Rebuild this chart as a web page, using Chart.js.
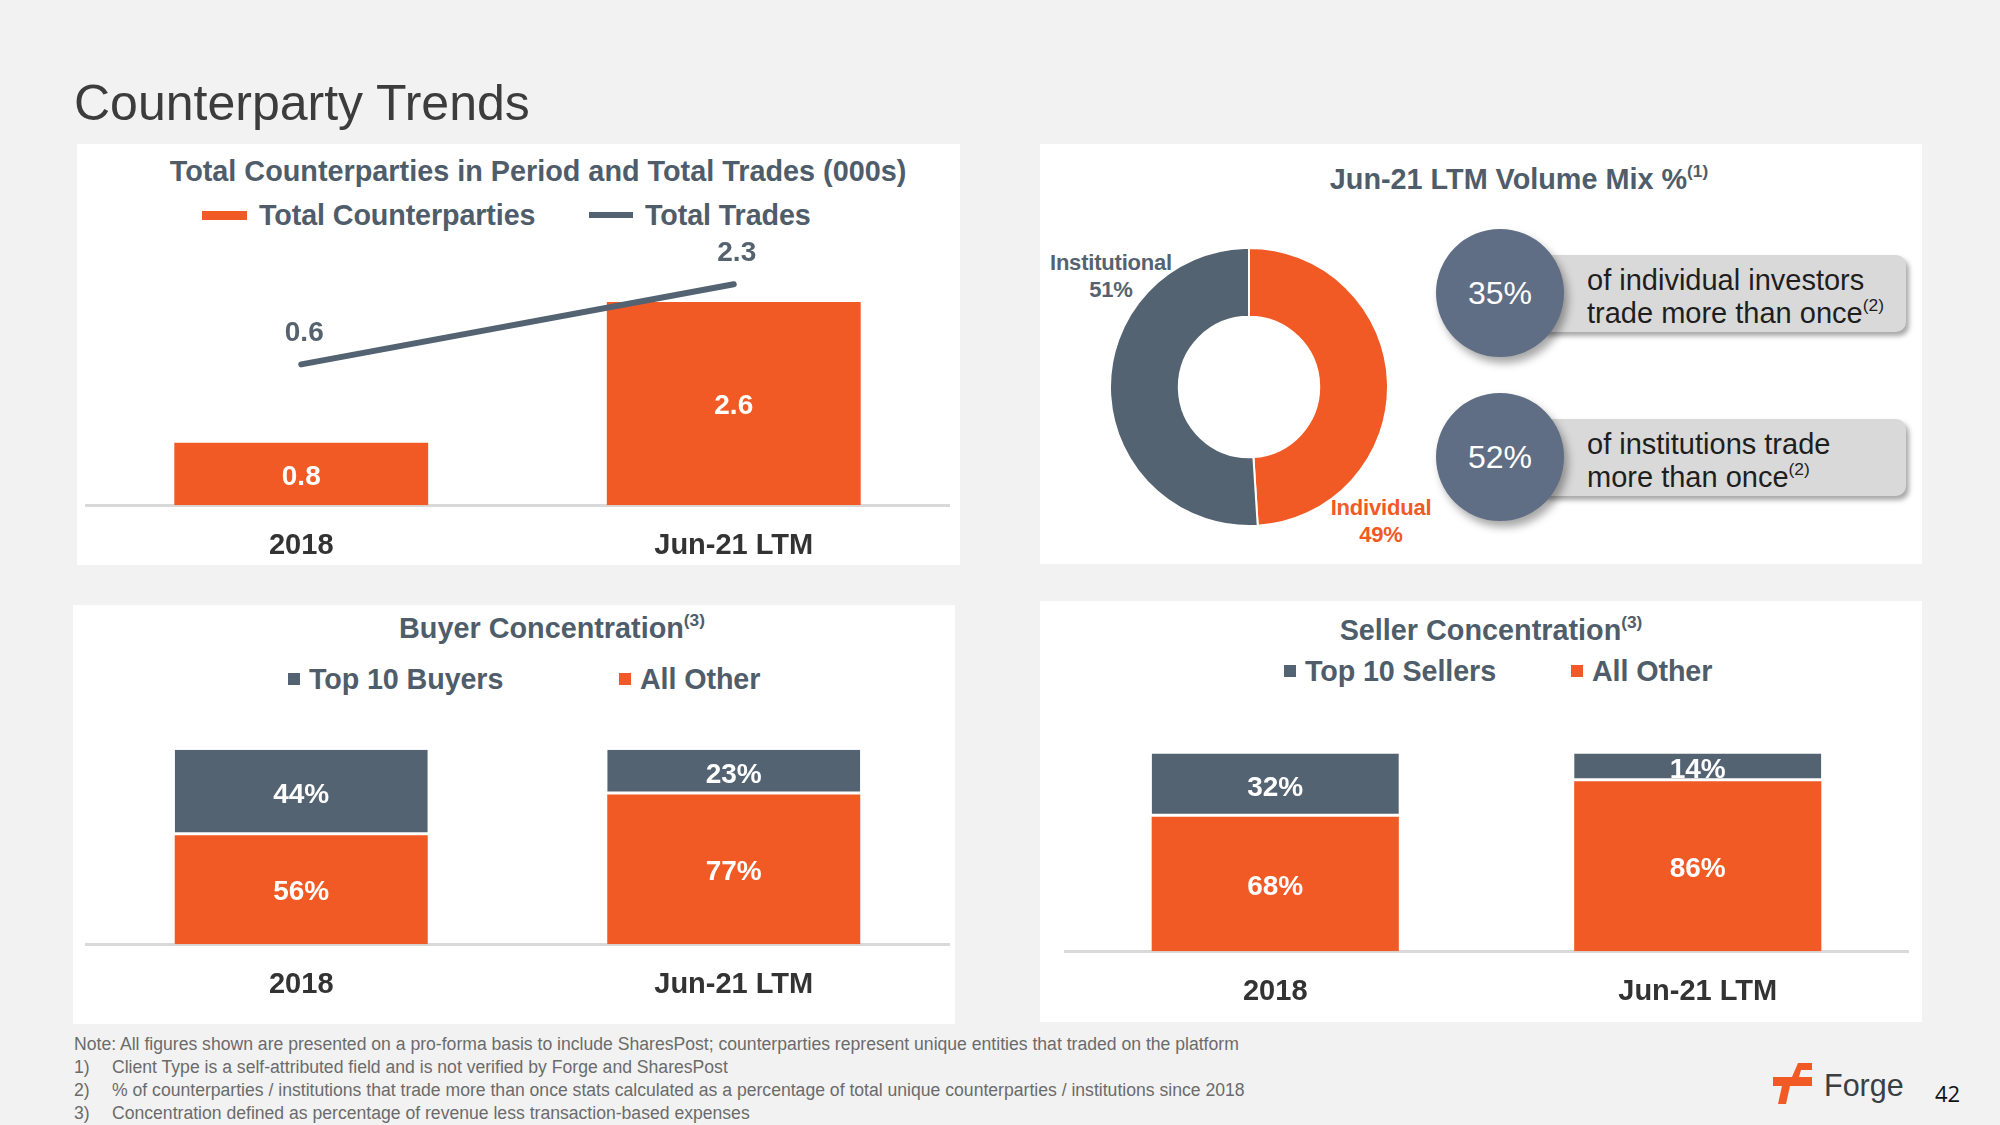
<!DOCTYPE html>
<html>
<head>
<meta charset="utf-8">
<title>Counterparty Trends</title>
<script src="https://cdn.jsdelivr.net/npm/chart.js@4.4.0/dist/chart.umd.min.js"></script>
<style>
    body { margin: 0; width: 2000px; height: 1125px; background: #f2f2f2; position: relative; overflow: hidden;
           font-family: 'Liberation Sans', Arial, Helvetica, sans-serif; }
    .panel { position: absolute; background: #fff; }
    .box { position: absolute; }
    .txt { position: absolute; white-space: nowrap; line-height: 1; }
    .mid { transform: translate(-50%, -50%); }
    .vmid { transform: translateY(-50%); }
    .head { font-weight: bold; color: #4f5d6b; font-size: 28.8px; }
    .leg { font-weight: bold; color: #4f5d6b; font-size: 28.7px; letter-spacing: -0.1px; }
    sup { font-size: 60%; line-height: 0; vertical-align: 0.7em; font-weight: normal; }
    .head sup { font-weight: bold; }
    .circle { position: absolute; border-radius: 50%; background: #5f6e85; color: #fff;
              box-shadow: 4px 6px 8px rgba(0,0,0,0.35); display: flex; align-items: center; justify-content: center;
              font-size: 32px; }
    .callout { position: absolute; background: #d9d9d9; border-radius: 10px;
               box-shadow: 3px 4px 5px rgba(0,0,0,0.35); }
    .callout div { position: absolute; left: 50px; font-size: 29px; color: #1e1e1e; white-space: nowrap; line-height: 1; }
    .note { position: absolute; left: 74px; font-size: 17.6px; color: #6b6b6b; white-space: nowrap; line-height: 1;
            transform: translateY(-50%); }
    .note span { display: inline-block; width: 38px; }
</style>
</head>
<body>

<div class="txt" style="left:74px; top:103px; font-size:50px; color:#3c3c3c; transform:translateY(-50%);">Counterparty Trends</div>

<div class="panel" style="left:77px; top:144px; width:883px; height:421px;"></div>
<div class="panel" style="left:1040px; top:144px; width:882px; height:420px;"></div>
<div class="panel" style="left:73px; top:605px; width:882px; height:419px;"></div>
<div class="panel" style="left:1040px; top:601px; width:882px; height:421px;"></div>

<div class="txt head mid" style="left:538px; top:171px;">Total Counterparties in Period and Total Trades (000s)</div>
<div class="txt head mid" style="left:1519px; top:179px;">Jun-21 LTM Volume Mix %<sup>(1)</sup></div>
<div class="txt head mid" style="left:552px; top:628px;">Buyer Concentration<sup>(3)</sup></div>
<div class="txt head mid" style="left:1491px; top:630px;">Seller Concentration<sup>(3)</sup></div>

<div id="legends"></div>
<div id="extras"></div>

<div class="box" style="left:85px; top:230px; width:865px; height:356px;"><canvas id="trendChart"></canvas></div>
<div class="box" style="left:1109px; top:247px; width:280px; height:280px;"><canvas id="mixChart"></canvas></div>
<div class="box" style="left:85px; top:700px; width:865px; height:325px;"><canvas id="buyerChart"></canvas></div>
<div class="box" style="left:1064px; top:705px; width:845px; height:327px;"><canvas id="sellerChart"></canvas></div>

<div class="note" style="top:1045px;">Note: All figures shown are presented on a pro-forma basis to include SharesPost; counterparties represent unique entities that traded on the platform</div>
<div class="note" style="top:1068px;"><span>1)</span>Client Type is a self-attributed field and is not verified by Forge and SharesPost</div>
<div class="note" style="top:1091px;"><span>2)</span>% of counterparties / institutions that trade more than once stats calculated as a percentage of total unique counterparties / institutions since 2018</div>
<div class="note" style="top:1114px;"><span>3)</span>Concentration defined as percentage of revenue less transaction-based expenses</div>

<svg class="box" style="left:1770px; top:1060px;" width="50" height="50" viewBox="1770 1060 50 50">
    <polygon fill="#f15a24" points="1798,1063 1812,1063 1812,1070 1801,1070 1799,1077 1792,1077"/>
    <polygon fill="#f15a24" points="1773,1077 1812,1077 1812,1086 1773,1086"/>
    <polygon fill="#f15a24" points="1782,1086 1790,1086 1786,1104 1778,1104"/>
</svg>
<div class="txt" style="left:1824px; top:1085px; font-size:30.5px; color:#3a3f44; transform:translateY(-50%);">Forge</div>
<div class="txt" style="left:1935px; top:1093px; font-size:22px; color:#111; font-family:'Open Sans',sans-serif; transform:translateY(-50%);">42</div>

<script>
const categories = ["2018", "Jun-21 LTM"];
const trendNames = ["Total Counterparties", "Total Trades"];
const totalCounterparties = [0.8, 2.6];
const totalTrades = [0.6, 2.3];

const mixLabels = ["Individual", "Institutional"];
const mixValues = [49, 51];

const repeatShares = [35, 52];
const repeatTexts = [["of individual investors", "trade more than once"], ["of institutions trade", "more than once"]];

const buyerNames = ["Top 10 Buyers", "All Other"];
const buyerTop10 = [44, 23];
const buyerOther = [56, 77];

const sellerNames = ["Top 10 Sellers", "All Other"];
const sellerTop10 = [32, 14];
const sellerOther = [68, 86];

const ORANGE = "#f15a24";
const SLATE = "#546371";
const LABEL_GRAY = "#56636f";
const FONT = "'Liberation Sans', Arial, Helvetica, sans-serif";

Chart.defaults.font.family = FONT;
Chart.defaults.animation = false;
Chart.defaults.plugins.legend.display = false;
Chart.defaults.plugins.tooltip.enabled = false;

// value labels on bars / line points
const valueLabels = {
    id: "valueLabels",
    afterDatasetsDraw(chart) {
        const ctx = chart.ctx;
        chart.data.datasets.forEach((ds, i) => {
            const lab = ds.valueLabel;
            if (!lab) return;
            chart.getDatasetMeta(i).data.forEach((el, j) => {
                const y = lab.pos === "above" ? el.y - lab.offset : (el.y + el.base) / 2 + 3;
                ctx.save();
                ctx.font = "bold 28px " + FONT;
                ctx.fillStyle = lab.color;
                ctx.textAlign = "center";
                ctx.textBaseline = "middle";
                ctx.fillText(lab.format(ds.data[j]), el.x + (lab.dx || 0), y);
                ctx.restore();
            });
        });
    }
};

const xAxis = {
    grid: { display: false, drawTicks: false },
    border: { color: "#d9d9d9", width: 3 },
    ticks: { color: "#333", padding: 23, font: { size: 29, weight: "bold" } }
};

// legends
const legends = document.getElementById("legends");
function addLegend(x, y, marker, text) {
    const m = document.createElement("div");
    m.className = "box";
    m.style.left = x + "px";
    m.style.top = (y - marker.h / 2) + "px";
    m.style.width = marker.w + "px";
    m.style.height = marker.h + "px";
    m.style.background = marker.color;
    legends.appendChild(m);
    const t = document.createElement("div");
    t.className = "txt leg vmid";
    t.style.left = (x + marker.w + marker.gap) + "px";
    t.style.top = y + "px";
    t.textContent = text;
    legends.appendChild(t);
}
addLegend(202, 215, { w: 45, h: 9, color: ORANGE, gap: 12 }, trendNames[0]);
addLegend(589, 215, { w: 44, h: 6, color: SLATE, gap: 12 }, trendNames[1]);
addLegend(288, 679, { w: 12, h: 12, color: SLATE, gap: 9 }, buyerNames[0]);
addLegend(619, 679, { w: 12, h: 12, color: ORANGE, gap: 9 }, buyerNames[1]);
addLegend(1284, 671, { w: 12, h: 12, color: SLATE, gap: 9 }, sellerNames[0]);
addLegend(1571, 671, { w: 12, h: 12, color: ORANGE, gap: 9 }, sellerNames[1]);

// donut side labels and repeat-trade callouts
const extras = document.getElementById("extras");
function addText(html, x, y, css) {
    const d = document.createElement("div");
    d.className = "txt mid";
    d.style.left = x + "px";
    d.style.top = y + "px";
    d.style.cssText += css;
    d.innerHTML = html;
    extras.appendChild(d);
}
const sideCss = "font-weight:bold;font-size:22px;text-align:center;line-height:27px;letter-spacing:-0.2px;";
addText(mixLabels[1] + "<br>" + mixValues[1] + "%", 1111, 276, sideCss + "color:#56636f;");
addText(mixLabels[0] + "<br>" + mixValues[0] + "%", 1381, 521, sideCss + "color:" + ORANGE + ";");

[293, 457].forEach((cy, k) => {
    const box = document.createElement("div");
    box.className = "callout";
    box.style.cssText += "left:1537px;top:" + (cy - 38) + "px;width:369px;height:77px;";
    box.innerHTML = "<div style='top:11px'>" + repeatTexts[k][0] + "</div>" +
        "<div style='top:44px'>" + repeatTexts[k][1] + "<sup>(2)</sup></div>";
    extras.appendChild(box);
    const c = document.createElement("div");
    c.className = "circle";
    c.style.cssText += "left:1436px;top:" + (cy - 64) + "px;width:128px;height:128px;";
    c.textContent = repeatShares[k] + "%";
    extras.appendChild(c);
});

// total counterparties / trades
new Chart(document.getElementById("trendChart"), {
    type: "bar",
    data: {
        labels: categories,
        datasets: [
            {
                type: "line",
                label: trendNames[1],
                data: totalTrades,
                yAxisID: "y2",
                borderColor: SLATE,
                borderWidth: 6,
                borderCapStyle: "round",
                pointRadius: 0,
                order: 0,
                valueLabel: { pos: "above", offset: 31, dx: 3, color: LABEL_GRAY, format: v => v.toFixed(1) }
            },
            {
                label: trendNames[0],
                data: totalCounterparties,
                yAxisID: "y",
                backgroundColor: ORANGE,
                categoryPercentage: 1,
                barPercentage: 0.587,
                order: 1,
                valueLabel: { pos: "center", color: "#fff", format: v => v.toFixed(1) }
            }
        ]
    },
    options: {
        responsive: true,
        maintainAspectRatio: false,
        layout: { padding: 0 },
        scales: {
            x: xAxis,
            y: { display: false, min: 0, max: 3.52 },
            y2: { display: false, min: -2.385, max: 3.45 }
        }
    },
    plugins: [valueLabels]
});

// volume mix donut
new Chart(document.getElementById("mixChart"), {
    type: "doughnut",
    data: {
        labels: mixLabels,
        datasets: [{
            data: mixValues,
            backgroundColor: [ORANGE, SLATE],
            borderColor: "#fff",
            borderWidth: 2
        }]
    },
    options: {
        responsive: true,
        maintainAspectRatio: false,
        cutout: "50.5%",
        layout: { padding: 0 }
    }
});

function concentrationChart(id, names, top10, other, yMax) {
    new Chart(document.getElementById(id), {
        type: "bar",
        data: {
            labels: categories,
            datasets: [
                {
                    label: names[1],
                    data: other,
                    backgroundColor: ORANGE,
                    categoryPercentage: 1,
                    barPercentage: 0.585,
                    valueLabel: { pos: "center", color: "#fff", format: v => v + "%" }
                },
                {
                    label: names[0],
                    data: top10,
                    backgroundColor: SLATE,
                    borderColor: "#fff",
                    borderWidth: { top: 0, left: 0, right: 0, bottom: 3 },
                    borderSkipped: false,
                    categoryPercentage: 1,
                    barPercentage: 0.585,
                    valueLabel: { pos: "center", color: "#fff", format: v => v + "%" }
                }
            ]
        },
        options: {
            responsive: true,
            maintainAspectRatio: false,
            layout: { padding: 0 },
            scales: {
                x: Object.assign({ stacked: true }, xAxis),
                y: { display: false, stacked: true, min: 0, max: yMax }
            }
        },
        plugins: [valueLabels]
    });
}
concentrationChart("buyerChart", buyerNames, buyerTop10, buyerOther, 125.6);
concentrationChart("sellerChart", sellerNames, sellerTop10, sellerOther, 124.5);
</script>
</body>
</html>
